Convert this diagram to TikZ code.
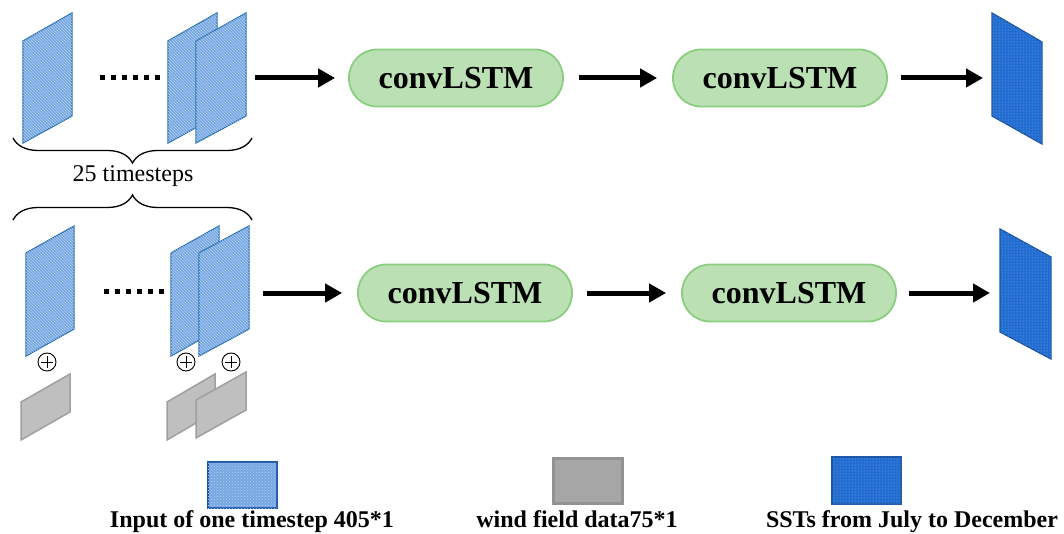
\documentclass[tikz,border=0pt]{standalone}
\usepackage{fontspec}
\setmainfont{Liberation Serif}
\usetikzlibrary{arrows.meta, calc, decorations.pathreplacing, patterns, positioning}

\definecolor{inedge}{RGB}{46,117,182}
\definecolor{infill}{RGB}{120,168,226}
\definecolor{inline}{RGB}{176,204,240}
\definecolor{outedge}{RGB}{30,88,168}
\definecolor{outfill}{RGB}{32,108,208}
\definecolor{outdot}{RGB}{140,180,235}
\definecolor{grayedge}{RGB}{160,160,160}
\definecolor{grayfill}{RGB}{191,191,191}
\definecolor{lstmedge}{RGB}{140,206,128}
\definecolor{lstmfill}{RGB}{186,224,180}

\begin{document}
\begin{tikzpicture}[x=1pt, y=-1pt,
    lstm/.style={draw=lstmedge, line width=1.8pt, fill=lstmfill, rounded corners=28pt,
        minimum width=214pt, minimum height=57pt, inner sep=0pt,
        font=\fontsize{32}{36}\selectfont\bfseries},
    flow/.style={-{Triangle[length=17pt, width=18pt]}, line width=5pt},
    inframe/.style={draw=inedge, line width=1.3pt, fill=infill,
        postaction={pattern=north west lines, pattern color=inline}},
    outframe/.style={draw=outedge, line width=1.3pt, fill=outfill,
        postaction={pattern=dots, pattern color=outdot}},
    windframe/.style={draw=grayedge, line width=1.5pt, fill=grayfill},
    oplus/.style={circle, draw, line width=0.9pt, minimum size=18pt, inner sep=0pt,
        path picture={
            \draw[line width=0.9pt] ([yshift=-3pt]path picture bounding box.north) -- ([yshift=3pt]path picture bounding box.south);
            \draw[line width=0.9pt] ([xshift=3pt]path picture bounding box.west) -- ([xshift=-3pt]path picture bounding box.east);}},
    etc/.style={line width=5pt, dash pattern=on 5pt off 6pt},
    brace/.style={decorate, decoration={brace, amplitude=25pt}, line width=1.3pt},
    legend/.style={anchor=base, font=\fontsize{24}{28}\selectfont\bfseries}
]
    \useasboundingbox (0,0) rectangle (1064,534);

    % Top row: SST inputs only
    \draw[inframe] (23,41) -- (72,13) -- (72,116) -- (23,143) -- cycle;
    \draw[inframe] (168,41) -- (217,13) -- (217,116) -- (168,143) -- cycle;
    \draw[inframe] (196,41) -- (246,13) -- (246,116) -- (196,143) -- cycle;
    \draw[etc] (100,78) -- (163,78);
    \coordinate (stk1) at (255,78);
    \node[lstm] (lstm1) at (456,78) {convLSTM};
    \node[lstm] (lstm2) at (780,78) {convLSTM};
    \draw[outframe] (992,13) -- (1042,42) -- (1042,144) -- (992,116) -- cycle;
    \coordinate (out1) at (992,78);
    \draw[flow, shorten >=13pt] (stk1) -- (lstm1);
    \draw[flow, shorten <=15pt, shorten >=15pt] (lstm1) -- (lstm2);
    \draw[flow, shorten <=13pt, shorten >=9pt] (lstm2) -- (out1);

    % Timesteps braces
    \draw[brace] (252,138) -- (13,138);
    \node[font=\fontsize{24}{28}\selectfont] (steps) at (133,176) {25 timesteps};
    \draw[brace] (13,220) -- (252,220);

    % Bottom row: SST inputs plus wind field
    \draw[inframe] (26,253) -- (74,226) -- (74,329) -- (26,356) -- cycle;
    \draw[inframe] (171,253) -- (219,226) -- (219,329) -- (171,356) -- cycle;
    \draw[inframe] (199,253) -- (249,226) -- (249,329) -- (199,356) -- cycle;
    \node[oplus] (add1) at (47,362) {};
    \node[oplus] (add2) at (186,362) {};
    \node[oplus] (add3) at (231,362) {};
    \draw[windframe] (21,402) -- (70,374) -- (70,412) -- (21,440) -- cycle;
    \draw[windframe] (167,402) -- (215,374) -- (215,412) -- (167,440) -- cycle;
    \draw[windframe] (196,400) -- (246,372) -- (246,410) -- (196,438) -- cycle;
    \draw[etc] (104,291) -- (167,291);
    \coordinate (stk2) at (263,293);
    \node[lstm] (lstm3) at (465,293) {convLSTM};
    \node[lstm] (lstm4) at (789,293) {convLSTM};
    \draw[outframe] (1000,229) -- (1051,257) -- (1051,359) -- (1000,332) -- cycle;
    \coordinate (out2) at (1000,293);
    \draw[flow, shorten >=15pt] (stk2) -- (lstm3);
    \draw[flow, shorten <=14pt, shorten >=15pt] (lstm3) -- (lstm4);
    \draw[flow, shorten <=12pt, shorten >=10pt] (lstm4) -- (out2);

    % Legend
    \draw[draw=outedge, line width=2.5pt, fill=infill, postaction={pattern=crosshatch dots, pattern color=inline}] (208,462) rectangle (277,508);
    \node[legend] (key1) at (252,527) {Input of one timestep 405*1};
    \draw[draw=gray!85, line width=3pt, fill=gray!70] (553,458) rectangle (622,503);
    \node[legend] (key2) at (577,527) {wind field data75*1};
    \draw[outframe] (832,457) rectangle (901,504);
    \node[legend] (key3) at (912,527) {SSTs from July to December};
\end{tikzpicture}
\end{document}
